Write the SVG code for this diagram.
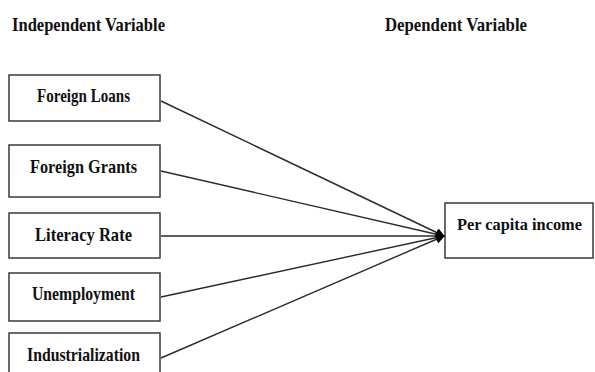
<svg xmlns="http://www.w3.org/2000/svg" width="595" height="372" viewBox="0 0 595 372">
<style>
.box{fill:#fff;stroke:#3a3a3a;stroke-width:1.5}
.t{font-family:"Liberation Serif","Times New Roman",serif;font-weight:bold;font-size:19px;fill:#111}
.h{font-family:"Liberation Serif","Times New Roman",serif;font-weight:bold;font-size:19px;fill:#111}
.c{stroke:#2a2a2a;stroke-width:1.4;fill:none}
</style>
<defs>
<marker id="ah" viewBox="0 0 10 10" refX="9" refY="5" markerWidth="9" markerHeight="9" markerUnits="userSpaceOnUse" orient="auto">
<path d="M0,0 L10,5 L0,10 z" fill="#000"/>
</marker>
</defs>
<rect width="595" height="372" fill="#fff"/>
<text class="h" x="12" y="31" textLength="153" lengthAdjust="spacingAndGlyphs">Independent Variable</text>
<text class="h" x="385" y="31" textLength="142" lengthAdjust="spacingAndGlyphs">Dependent Variable</text>
<g id="n1"><rect class="box" x="9" y="75" width="151" height="46"/><text class="t" x="37" y="102" textLength="93" lengthAdjust="spacingAndGlyphs">Foreign Loans</text></g>
<g id="n2"><rect class="box" x="9" y="145" width="151" height="52"/><text class="t" x="30" y="173" textLength="107" lengthAdjust="spacingAndGlyphs">Foreign Grants</text></g>
<g id="n3"><rect class="box" x="9" y="213" width="151" height="45"/><text class="t" x="35" y="241" textLength="97" lengthAdjust="spacingAndGlyphs">Literacy Rate</text></g>
<g id="n4"><rect class="box" x="9" y="273" width="151" height="48"/><text class="t" x="32" y="300" textLength="103" lengthAdjust="spacingAndGlyphs">Unemployment</text></g>
<g id="n5"><rect class="box" x="9" y="333" width="151" height="60"/><text class="t" x="27" y="361" textLength="113" lengthAdjust="spacingAndGlyphs">Industrialization</text></g>
<g id="n6"><rect class="box" x="445" y="203" width="148" height="55"/><text class="t" x="457" y="230" style="font-size:17px" textLength="125" lengthAdjust="spacingAndGlyphs">Per capita income</text></g>
<g id="connectors">
<line class="c" x1="161" y1="101" x2="444" y2="236" marker-end="url(#ah)"/>
<line class="c" x1="161" y1="171" x2="444" y2="236" marker-end="url(#ah)"/>
<line class="c" x1="161" y1="236" x2="444" y2="236" marker-end="url(#ah)"/>
<line class="c" x1="161" y1="297" x2="444" y2="236" marker-end="url(#ah)"/>
<line class="c" x1="161" y1="358" x2="444" y2="236" marker-end="url(#ah)"/>
</g>
</svg>
